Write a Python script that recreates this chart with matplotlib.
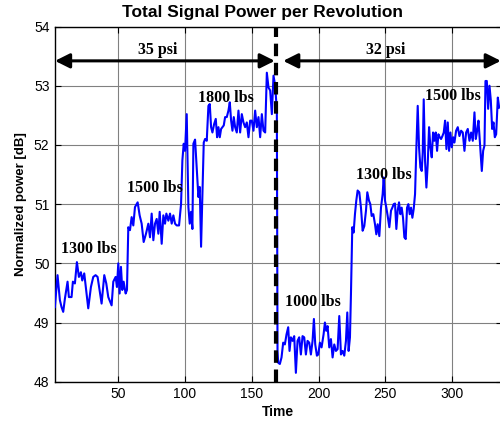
import matplotlib
matplotlib.use("Agg")
import matplotlib.pyplot as plt

# Total signal power per revolution: (time, normalized power [dB]) samples
samples_35psi = [
    (2.5, 49.26), (4.5, 49.80), (6.25, 49.38), (7.5, 49.26), (8.75, 49.18),
    (10, 49.40), (12, 49.69), (13, 49.43), (15, 49.43), (16, 49.69),
    (17.5, 49.66), (19, 50.02), (20.5, 49.77), (22, 49.85), (23, 49.71),
    (24.5, 49.83), (26.25, 49.49), (27.5, 49.24), (29.5, 49.60), (31.25, 49.77),
    (33, 49.80), (34.5, 49.77), (36, 49.55), (37.5, 49.32), (39.5, 49.80),
    (41, 49.66), (42.5, 49.43), (45, 49.29), (46.25, 49.69), (48, 49.77),
    (49, 49.60), (50, 50.00), (51, 49.49), (52, 49.94), (53, 49.55),
    (54, 49.69), (55.5, 49.49), (56.5, 49.55), (57.5, 50.61), (58.75, 50.56),
    (60, 50.78), (61.25, 50.64), (62.5, 50.95), (64.5, 51.03), (66, 50.81),
    (67.5, 50.67), (69, 50.36), (70.75, 50.50), (72.5, 50.67), (73.75, 50.44),
    (75, 50.84), (76.25, 50.39), (77.5, 50.67), (78.75, 50.75), (80, 50.50),
    (81, 50.87), (82.5, 50.33), (83.75, 50.81), (85, 50.67), (86, 50.84),
    (87.5, 50.72), (88.75, 50.84), (90, 50.67), (91.25, 50.81), (92.5, 50.67),
    (93.75, 50.64), (95.5, 50.64), (97, 51.00), (98, 51.74), (99, 52.02),
    (100, 51.90), (101.25, 52.52), (102.5, 50.95), (103.5, 50.67), (104.5, 50.87),
    (105.5, 50.58), (106.25, 52.02), (107.5, 52.09), (108.75, 51.62), (110, 51.12),
    (111, 51.29), (112, 50.28), (113, 51.17), (114, 52.04), (115, 52.10),
    (116.25, 52.07), (117.5, 52.66), (118.5, 52.69), (119.5, 52.30), (120.5, 52.21),
    (121.75, 52.35), (123, 52.44), (124, 52.13), (125, 52.30), (126, 52.13),
    (127, 52.27), (128, 52.30), (129, 52.33), (130, 52.47), (131.25, 52.47),
    (132.5, 52.58), (133.5, 52.72), (134.5, 52.41), (135.5, 52.24), (136.5, 52.47),
    (137.5, 52.30), (138.75, 52.21), (140, 52.58), (141.25, 52.21), (142.5, 52.52),
    (143.75, 52.38), (145, 52.30), (146.25, 52.38), (147.5, 52.13), (148.75, 52.41),
    (150, 52.41), (151.25, 52.24), (152.5, 52.58), (153.75, 52.30), (155, 52.47),
    (156.25, 52.13), (157.5, 52.52), (158.75, 52.24), (160, 52.21), (161.25, 53.22),
    (162.5, 52.97), (163.75, 52.92), (165, 52.52), (166.25, 53.17), (167.5, 53.00),
    (168.75, 52.58),
]

samples_32psi = [
    (169.25, 48.52), (169.75, 48.32), (171, 48.30), (172.25, 48.41), (173.5, 48.66),
    (174.75, 48.63), (176, 48.80), (177.25, 48.92), (178.25, 48.52), (179.25, 48.75),
    (180.5, 48.69), (181.75, 48.77), (183, 48.15), (184.25, 48.69), (185.5, 48.75),
    (186.75, 48.46), (188, 48.77), (189.25, 48.75), (190.5, 48.46), (191.75, 48.69),
    (193, 48.66), (194.25, 48.46), (195.5, 48.69), (196.5, 49.06), (197.5, 48.63),
    (198.75, 48.44), (199.75, 48.46), (201, 48.66), (202.25, 48.58), (203.75, 48.80),
    (204.75, 49.00), (205.75, 48.86), (206.75, 48.94), (208, 48.58), (209.25, 48.72),
    (210.5, 48.41), (211.75, 48.63), (213, 48.52), (214.25, 48.55), (215.5, 49.11),
    (216.75, 48.46), (218, 48.52), (219.25, 48.44), (220.5, 48.69), (221.5, 49.17),
    (222.5, 48.52), (223.5, 48.75), (224.25, 49.48), (225.25, 50.61), (226.25, 50.52),
    (227.25, 50.83), (228.25, 51.06), (229.25, 51.23), (230.5, 51.20), (231.75, 50.94),
    (233, 50.55), (234.25, 50.63), (235.5, 50.89), (236.5, 51.20), (237.75, 51.06),
    (238.75, 51.00), (239.75, 50.80), (241, 50.83), (242.25, 50.66), (243.25, 50.49),
    (244.25, 50.66), (245.5, 50.46), (246.75, 50.94), (248, 51.17), (248.75, 51.45),
    (249.75, 51.06), (250.75, 50.94), (251.75, 50.80), (253, 50.61), (254.25, 50.89),
    (255.25, 50.94), (256.25, 51.00), (257.25, 51.01), (258.25, 50.58), (259.25, 50.89),
    (260.25, 51.03), (261.25, 50.83), (262.25, 50.94), (263.25, 50.77), (264.25, 50.44),
    (265.25, 50.41), (266.25, 50.94), (267.25, 51.00), (268.25, 50.83), (269.25, 50.94),
    (270.25, 50.77), (271.25, 50.92), (272.25, 51.17), (273.25, 51.96), (274.25, 52.66),
    (275.25, 51.96), (276.25, 51.62), (277.25, 51.56), (278, 51.87), (278.75, 52.77),
    (279.75, 51.73), (280.75, 51.28), (281.75, 51.68), (282.75, 52.30), (283.75, 51.96),
    (284.75, 51.79), (285.75, 52.21), (286.75, 52.07), (287.75, 52.21), (288.75, 51.90),
    (289.75, 52.18), (290.75, 52.13), (291.75, 52.10), (292.75, 52.15), (293.75, 52.21),
    (294.75, 52.41), (295.75, 51.93), (296.75, 52.38), (297.75, 51.90), (298.75, 52.21),
    (299.75, 51.96), (300.75, 52.13), (301.75, 52.04), (303, 52.24), (304.25, 52.30),
    (305.5, 52.15), (306.75, 52.24), (308, 52.21), (309.25, 51.90), (310.5, 52.21),
    (311.75, 52.27), (313, 52.07), (314.25, 52.21), (315.5, 52.07), (316.75, 52.55),
    (317.75, 52.10), (318.75, 52.24), (319.75, 52.41), (320.75, 52.07), (321.5, 51.82),
    (322.25, 51.56), (323.25, 51.90), (324.25, 51.99), (325, 53.08), (326, 53.08),
    (327, 52.61), (328, 53.00), (329, 52.75), (330, 52.27), (331, 52.38),
    (332, 52.13), (333, 52.18), (334.25, 52.80), (335.25, 52.63),
]

x_ticks = [50, 100, 150, 200, 250, 300]
y_ticks = [48, 49, 50, 51, 52, 53, 54]

# Load annotations: (text, time, power)
load_labels = [("1300 lbs", 28.2, 50.24), ("1500 lbs", 77.2, 51.27),
               ("1800 lbs", 130.8, 52.80), ("1000 lbs", 196.1, 49.35),
               ("1300 lbs", 248.7, 51.50), ("1500 lbs", 300.8, 52.83)]
pressure_change = 168.4
psi_labels = [("35 psi", 79.7), ("32 psi", 250.4)]

samples = samples_35psi + samples_32psi
time = [t for t, _ in samples]
power = [p for _, p in samples]

fig = plt.figure(figsize=(5.0, 4.21), dpi=100)
ax = fig.add_axes([0.110, 0.0933, 0.893, 0.8437])

ax.plot(time, power, color="#0000ff", lw=1.5, zorder=3)
ax.axvline(pressure_change, color="black", lw=3, linestyle=(0, (3, 1.6)), zorder=4)

ax.set_xlim(2.6, 337)
ax.set_ylim(48, 54)
ax.set_xticks(x_ticks)
ax.set_yticks(y_ticks)
ax.grid(True, color="#808080", lw=0.8)
ax.tick_params(direction="in", top=True, right=True, length=4, width=0.8,
               labelsize=10, pad=4)
for lab in ax.get_xticklabels() + ax.get_yticklabels():
    lab.set_family("Liberation Sans")
for s in ax.spines.values():
    s.set_linewidth(1.0)

ax.set_xlabel("Time", fontsize=10, fontweight="bold", family="Liberation Sans", labelpad=3)
ax.set_ylabel("Normalized power [dB]", fontsize=9.5, fontweight="bold",
              family="Liberation Sans", labelpad=5)
fig.text(0.524, 1 - 12 / 421, "Total Signal Power per Revolution", fontsize=12.5,
         fontweight="bold", family="Liberation Sans", ha="center", va="center")

arrow_y = 53.42
arrow_kw = dict(arrowstyle="<|-|>", lw=2.2, color="black", mutation_scale=22,
                shrinkA=0, shrinkB=0)
ax.annotate("", xy=(2.6, arrow_y), xytext=(167.2, arrow_y), arrowprops=arrow_kw, zorder=5)
ax.annotate("", xy=(173.5, arrow_y), xytext=(336.5, arrow_y), arrowprops=arrow_kw, zorder=5)

serif = dict(family="Liberation Serif", fontweight="bold", fontsize=11.5,
             ha="center", va="center", zorder=6)
for txt, tx in psi_labels:
    ax.text(tx, 53.6, txt, **serif)
for txt, tx, ty in load_labels:
    ax.text(tx, ty, txt, **serif)

fig.savefig("out.png", dpi=100)
